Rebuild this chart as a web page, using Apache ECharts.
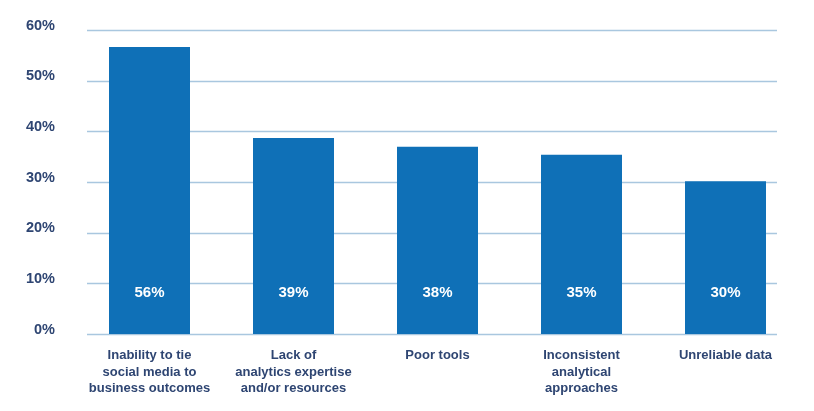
<!DOCTYPE html>
<html><head><meta charset="utf-8">
<script src="https://cdn.jsdelivr.net/npm/echarts@6/dist/echarts.min.js"></script>
<style>html,body{margin:0;padding:0;background:#fff}#c{width:814px;height:411px}</style>
</head><body><div id="c"></div>
<script>
var categories = ["Inability to tie\nsocial media to\nbusiness outcomes","Lack of\nanalytics expertise\nand/or resources","Poor tools","Inconsistent\nanalytical\napproaches","Unreliable data"];
var values = [56.7, 38.7, 37.0, 35.4, 30.2];
var valueLabels = ["56%","39%","38%","35%","30%"];
var yTicks = [0,10,20,30,40,50,60];

var chart = echarts.init(document.getElementById('c'));
var navy = '#2e4572';
chart.setOption({
  animation:false,
  grid:[
    {left:77.5, width:720, top:30.3, height:303.7},
    {left:87, width:690, top:30.3, height:303.7}
  ],
  xAxis:[
    {type:'category', gridIndex:0, data:categories,
     axisLine:{show:false}, axisTick:{show:false},
     axisLabel:{color:navy, fontFamily:'Liberation Sans, Arial', fontWeight:'bold', fontSize:13, lineHeight:16.3, verticalAlign:'top', margin:13.5, interval:0}},
    {type:'category', gridIndex:1, data:categories, show:false}
  ],
  yAxis:[
    {type:'value', gridIndex:0, min:0, max:60, interval:10, show:false, splitLine:{show:false}},
    {type:'value', gridIndex:1, min:0, max:60, interval:10,
     axisLine:{show:false}, axisTick:{show:false},
     splitLine:{lineStyle:{color:'#a9c7df', width:1.3}},
     axisLabel:{color:navy, fontFamily:'Liberation Sans, Arial', fontWeight:'bold', fontSize:14.5, margin:32, verticalAlign:'bottom', lineHeight:9,
       formatter:function(v){return v+'%';}}}
  ],
  series:[{
    type:'bar', xAxisIndex:0, yAxisIndex:0, data:values, barWidth:81,
    itemStyle:{color:'#0f70b7'},
    label:{show:true, position:'insideBottom', distance:34, color:'#fff', fontWeight:'bold', fontSize:15, fontFamily:'Liberation Sans, Arial',
      formatter:function(p){return valueLabels[p.dataIndex];}}
  }]
});
</script></body></html>
